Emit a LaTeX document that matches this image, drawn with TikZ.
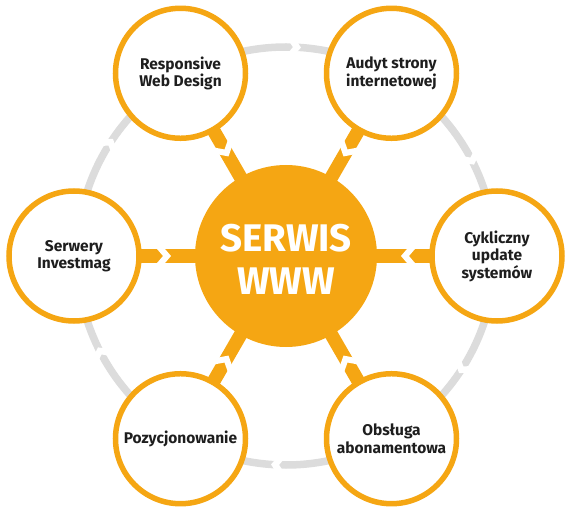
\documentclass[tikz,border=0pt]{standalone}
\usepackage{fontspec}
\setmainfont{Fira Sans}
\definecolor{org}{HTML}{F5A613}
\definecolor{ringgray}{HTML}{DCDCDC}
\definecolor{txt}{HTML}{1E1E1E}
\pgfdeclarelayer{bg}
\pgfsetlayers{bg,main}
\tikzset{
  hub/.style={circle, fill=org, minimum size=182pt, inner sep=0pt, text=white,
    font=\fontsize{38.5}{43}\selectfont\bfseries, align=center},
  topic/.style={circle, draw=org, line width=5.5pt, fill=white, minimum size=130pt,
    inner sep=0pt, text=txt, font=\fontsize{15.5}{17.5}\selectfont\bfseries, align=center},
  link/.style={draw=org, line width=13.5pt},
  ringline/.style={draw=ringgray, line width=7.5pt},
  ringgap/.pic={\fill[white] (-8.5,-6) -- (-4,0) -- (-8.5,6) -- (-0.5,6) -- (4,0) -- (-0.5,-6) -- cycle;},
  linkgap/.pic={\fill[white] (-11.7,-9) -- (-4,0) -- (-11.7,9) -- (-3.7,9) -- (4,0) -- (-3.7,-9) -- cycle;}
}
\begin{document}
\begin{tikzpicture}[x=1pt,y=1pt]
\useasboundingbox (-286,-255) rectangle (284,256);
\node[hub] (hub) at (0,0) {};
\node[text=white, font=\fontsize{38.5}{43}\selectfont\bfseries, align=center] (hubtext) at (0,-3) {SERWIS\\WWW};
\node[topic] (rwd) at (120:211) {Responsive\\Web Design};
\node[topic] (aud) at (60:211) {Audyt strony\\internetowej};
\node[topic] (cyk) at (0:211) {Cykliczny\\update\\systemów};
\node[topic] (obs) at (-60:211) {Obsługa\\abonamentowa};
\node[topic] (poz) at (-120:211) {Pozycjonowanie};
\node[topic] (ser) at (180:212) {Serwery\\Investmag};
\begin{pgfonlayer}{bg}
\draw[ringline] (hub.center) circle[radius=209];
\foreach \a [evaluate=\a as \r using \a-90] in {87,27,-33,-93,-153,147}
  \pic[rotate=\r] at (\a:209) {ringgap};
\foreach \n/\a [evaluate=\a as \r using \a+180] in {rwd/120,aud/60,cyk/0,obs/-60,poz/-120,ser/180} {
  \draw[link] (hub.center) -- (\n.center);
  \pic[rotate=\r] at (\a:119) {linkgap};
}
\end{pgfonlayer}
\end{tikzpicture}
\end{document}
